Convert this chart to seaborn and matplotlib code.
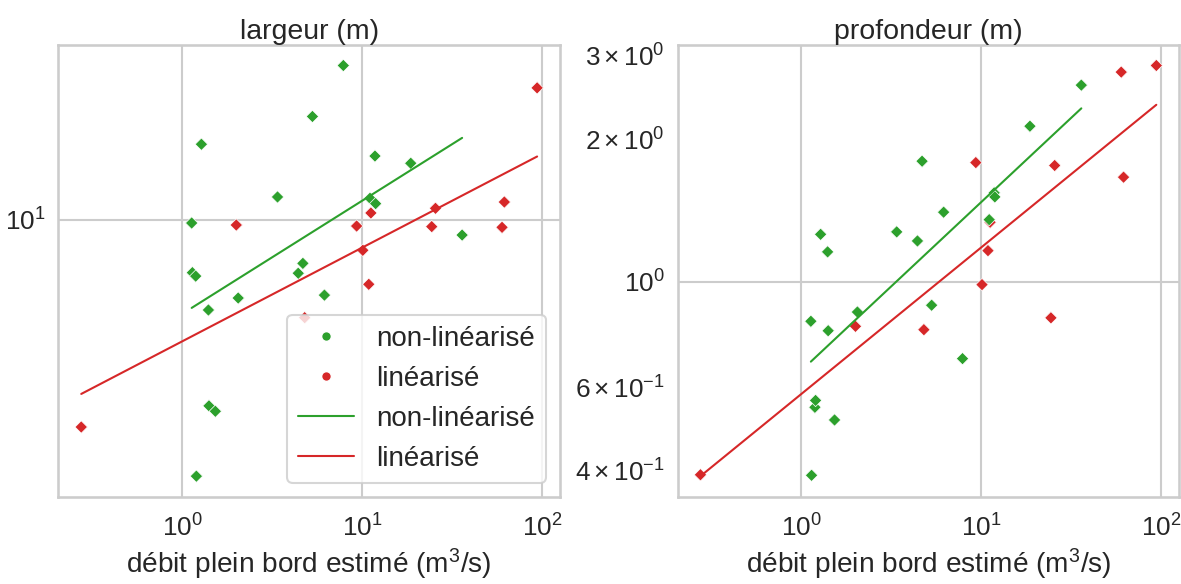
import numpy as np
import pandas as pd
import matplotlib
matplotlib.use("Agg")
import matplotlib.pyplot as plt
import seaborn as sns
from matplotlib.lines import Line2D

# ---- data ----
methodes = ["non-linéarisé", "linéarisé"]
couleurs = ["#2ca02c", "#d62728"]

# linéarisé
q_lin = [0.275, 2.0, 4.8, 9.33, 10.1, 10.9, 11.2, 24.4, 25.6, 60.0, 61.8, 94.0]
largeur_lin = [2.25, 9.62, 4.94, 9.55, 8.02, 6.28, 10.49, 9.51, 10.85, 9.46, 11.35, 25.8]
profondeur_lin = [0.392, 0.806, 0.793, 1.785, 0.987, 1.164, 1.336, 0.840, 1.76, 2.77, 1.663, 2.86]

# non-linéarisé
q_nl = [1.13, 1.14, 1.19, 1.20, 1.28, 1.40, 1.41, 1.53, 2.05, 3.39,
        4.42, 4.69, 5.30, 6.18, 7.87, 11.07, 11.8, 11.9, 18.65, 36.0]
largeur_nl = [9.76, 6.83, 6.66, 1.58, 17.2, 5.22, 2.62, 2.52, 5.69, 11.77,
              6.80, 7.30, 21.0, 5.81, 30.3, 11.66, 15.8, 11.22, 15.0, 8.95]
profondeur_nl = [0.826, 0.391, 0.544, 0.5625, 1.26, 1.157, 0.789, 0.5115, 0.864, 1.275,
                 1.22, 1.797, 0.893, 1.403, 0.689, 1.353, 1.541, 1.511, 2.13, 2.60]

titres = ["largeur (m)", "profondeur (m)"]
variables = ["largeur", "profondeur"]
xlabel = "débit plein bord estimé (m$^{\\mathdefault{3}}$/s)"

# ---- tables ----
df = pd.concat([
    pd.DataFrame({"q": q_lin, "largeur": largeur_lin, "profondeur": profondeur_lin,
                  "methode": methodes[1]}),
    pd.DataFrame({"q": q_nl, "largeur": largeur_nl, "profondeur": profondeur_nl,
                  "methode": methodes[0]}),
], ignore_index=True)

palette = dict(zip(methodes, couleurs))

# power-law fits (least squares in log-log space)
fit_rows = []
for var in variables:
    for m in methodes:
        sub = df[df.methode == m]
        lx, ly = np.log10(sub.q.values), np.log10(sub[var].values)
        b, a = np.polyfit(lx, ly, 1)
        xs = np.logspace(lx.min(), lx.max(), 50)
        for xv in xs:
            fit_rows.append({"var": var, "methode": m, "q": xv,
                             "val": 10 ** (a + b * np.log10(xv))})
fits = pd.DataFrame(fit_rows)

# ---- figure ----
sns.set_theme(context="talk", style="whitegrid")
plt.rcParams["font.family"] = ["Liberation Sans", "DejaVu Sans"]
plt.rcParams["mathtext.fontset"] = "custom"
plt.rcParams["mathtext.rm"] = "Liberation Sans"
plt.rcParams["mathtext.it"] = "Liberation Sans:italic"
plt.rcParams["axes.titlesize"] = 20.5
plt.rcParams["axes.labelsize"] = 20.2
plt.rcParams["xtick.labelsize"] = 18.8
plt.rcParams["ytick.labelsize"] = 18.8
plt.rcParams["legend.fontsize"] = 20.0

fig = plt.figure(figsize=(11.81, 5.84), dpi=100)
ax1 = fig.add_axes([0.0495, 0.1495, 0.4246, 0.7735])
ax2 = fig.add_axes([0.5738, 0.1495, 0.4246, 0.7735])

for ax, var, titre in zip([ax1, ax2], variables, titres):
    ax.set_xscale("log")
    ax.set_yscale("log")
    sns.scatterplot(data=df, x="q", y=var, hue="methode", palette=palette,
                    marker="D", s=40, ax=ax, legend=False, zorder=2)
    sns.lineplot(data=fits[fits["var"] == var], x="q", y="val", hue="methode",
                 palette=palette, lw=1.5, ax=ax, legend=False, zorder=3)
    ax.set_title(titre, pad=4)
    ax.set_xlabel(xlabel)
    ax.set_ylabel("")
    ax.tick_params(axis="y", which="major", length=6)

handles = [
    Line2D([], [], marker="o", ls="", color=couleurs[0], markersize=7, markeredgecolor="w"),
    Line2D([], [], marker="o", ls="", color=couleurs[1], markersize=7, markeredgecolor="w"),
    Line2D([], [], color=couleurs[0], lw=1.5),
    Line2D([], [], color=couleurs[1], lw=1.5),
]
ax1.legend(handles, methodes + methodes, loc="lower right")

fig.savefig("out.png", dpi=100)
